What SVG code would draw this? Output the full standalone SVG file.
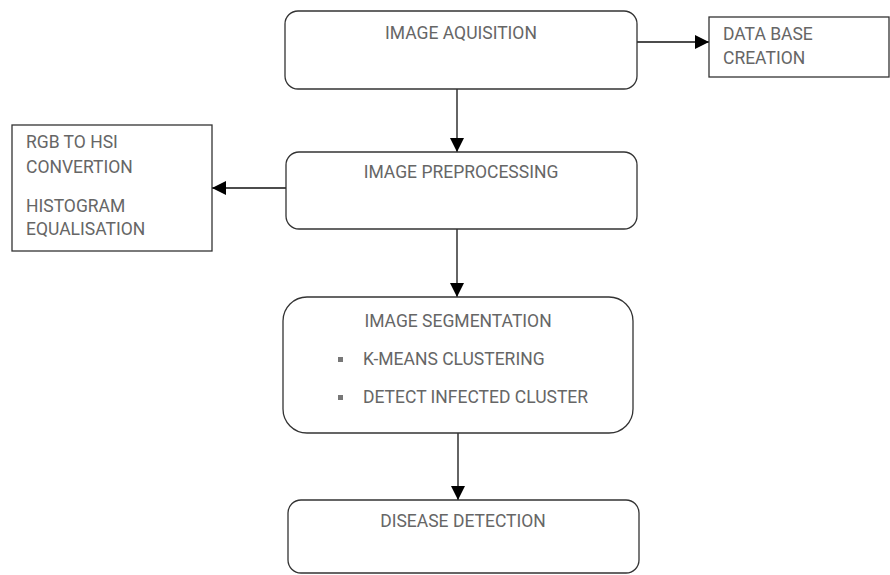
<svg xmlns="http://www.w3.org/2000/svg" width="890" height="575" viewBox="0 0 890 575">
<defs>
<style>
.box{fill:#fff;stroke:#333;stroke-width:1.3}
.t{font-family:Roboto,"Liberation Sans",sans-serif;font-size:17.5px;fill:#666}
.c{text-anchor:middle}
.ln{stroke:#111;stroke-width:1.3;fill:none}
.b{fill:#777}
</style>
<marker id="ah" viewBox="0 0 10 10" refX="10" refY="5" markerWidth="16" markerHeight="14" markerUnits="userSpaceOnUse" orient="auto">
<path d="M0,0 L10,5 L0,10 Z" fill="#000"/>
</marker>
</defs>
<rect width="890" height="575" fill="#fff"/>
<g id="connectors">
<line class="ln" x1="637" y1="42" x2="709" y2="42" marker-end="url(#ah)"/>
<line class="ln" x1="457" y1="89" x2="457" y2="152" marker-end="url(#ah)"/>
<line class="ln" x1="287" y1="188" x2="212" y2="188" marker-end="url(#ah)"/>
<line class="ln" x1="457" y1="229" x2="457" y2="297" marker-end="url(#ah)"/>
<line class="ln" x1="458" y1="433" x2="458" y2="500" marker-end="url(#ah)"/>
</g>
<g id="acquisition">
<rect class="box" x="285" y="11" width="352" height="78" rx="13"/>
<text class="t c" x="461" y="39">IMAGE AQUISITION</text>
</g>
<g id="database">
<rect class="box" x="709" y="17" width="180" height="60"/>
<text class="t" x="723" y="40">DATA BASE</text>
<text class="t" x="723" y="64">CREATION</text>
</g>
<g id="preprocessing">
<rect class="box" x="286" y="152" width="351" height="77" rx="13"/>
<text class="t c" x="461" y="178">IMAGE PREPROCESSING</text>
</g>
<g id="conversion">
<rect class="box" x="12" y="125" width="200" height="126"/>
<text class="t" x="26" y="148">RGB TO HSI</text>
<text class="t" x="26" y="173">CONVERTION</text>
<text class="t" x="26" y="212">HISTOGRAM</text>
<text class="t" x="26" y="235">EQUALISATION</text>
</g>
<g id="segmentation">
<rect class="box" x="283" y="297" width="350" height="136" rx="24"/>
<text class="t c" x="458" y="327">IMAGE SEGMENTATION</text>
<rect class="b" x="338" y="357" width="5" height="5"/>
<text class="t" x="363" y="365">K-MEANS CLUSTERING</text>
<rect class="b" x="338" y="395" width="5" height="5"/>
<text class="t" x="363" y="403">DETECT INFECTED CLUSTER</text>
</g>
<g id="detection">
<rect class="box" x="288" y="500" width="351" height="73" rx="13"/>
<text class="t c" x="463" y="527">DISEASE DETECTION</text>
</g>
</svg>
